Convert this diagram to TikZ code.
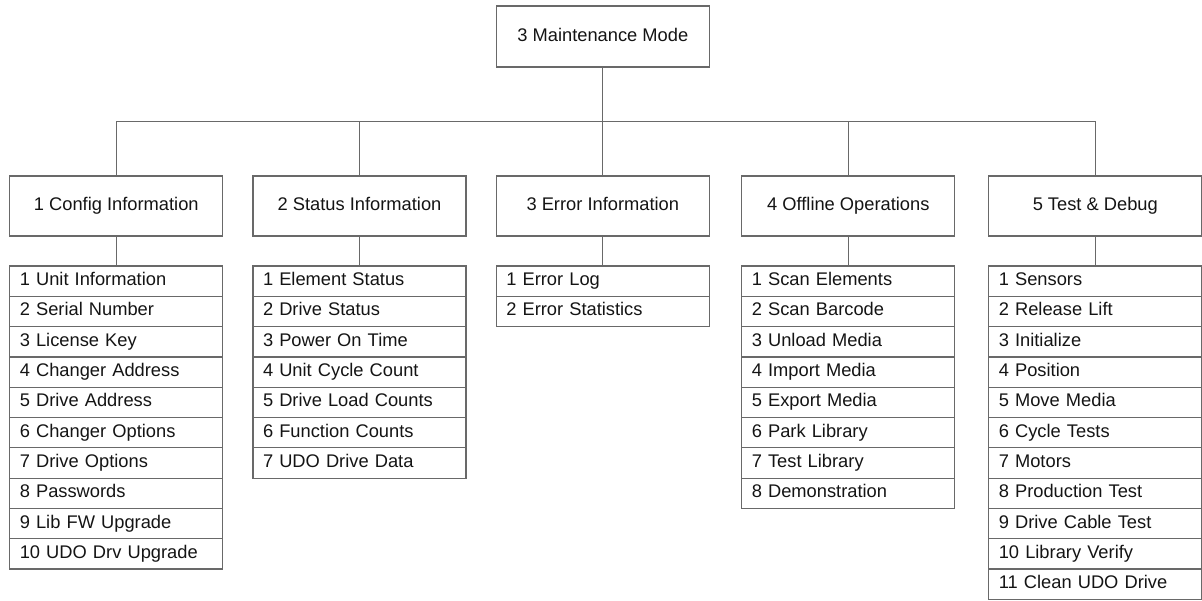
\documentclass[tikz,border=0pt]{standalone}
\usepackage{fontspec}
\setmainfont{Liberation Sans}
\usetikzlibrary{positioning,calc}
\definecolor{rulegray}{RGB}{105,105,105}
\definecolor{inkblack}{RGB}{20,20,20}

\tikzset{
  menubox/.style={draw=rulegray,line width=1.2pt,outer sep=0pt,minimum width=213pt,minimum height=60pt,text height=13pt,text depth=4pt,text=inkblack,font=\fontsize{18.3}{22}\selectfont},
  itembox/.style={draw=rulegray,line width=1.2pt,outer sep=0pt,minimum width=213pt,minimum height=30.3pt,inner xsep=10pt,text width=193pt,text height=13pt,text depth=4pt,align=left,text=inkblack,font=\fontsize{18.3}{22}\selectfont},
  link/.style={draw=rulegray,line width=1.2pt}
}
% one column of sub-menu entries hanging below a menu box
\newcommand\menulist[2]{%
  \foreach \entry [count=\i, evaluate=\i as \d using 30+(\i-1)*30.3] in {#2}
    {\node[itembox,below=\d pt of #1] (#1-\i) {\entry};}
  \draw[link] (#1) -- (#1-1);
}

\begin{document}
\begin{tikzpicture}[x=1pt,y=-1pt]
\useasboundingbox (0,0) rectangle (1202,600);
\node[menubox,minimum height=61pt] (mode) at (602.8,36.5) {3 Maintenance Mode};
\node[menubox] (cfg) at (116.3,206) {1 Config Information};
\node[menubox] (sts) at (359.5,206) {2 Status Information};
\node[menubox] (err) at (602.8,206) {3 Error Information};
\node[menubox] (off) at (848.3,206) {4 Offline Operations};
\node[menubox] (tst) at (1095.3,206) {5 Test \& Debug};
\foreach \h in {cfg,sts,err,off,tst}{\draw[link] (mode.south) |- ($(mode.south)!.5!(err.north)$) -| (\h.north);}

\menulist{cfg}{1 Unit Information,2 Serial Number,3 License Key,4 Changer Address,5 Drive Address,6 Changer Options,7 Drive Options,8 Passwords,9 Lib FW Upgrade,10 UDO Drv Upgrade}
\menulist{sts}{1 Element Status,2 Drive Status,3 Power On Time,4 Unit Cycle Count,5 Drive Load Counts,6 Function Counts,7 UDO Drive Data}
\menulist{err}{1 Error Log,2 Error Statistics}
\menulist{off}{1 Scan Elements,2 Scan Barcode,3 Unload Media,4 Import Media,5 Export Media,6 Park Library,7 Test Library,8 Demonstration}
\menulist{tst}{1 Sensors,2 Release Lift,3 Initialize,4 Position,5 Move Media,6 Cycle Tests,7 Motors,8 Production Test,9 Drive Cable Test,10 Library Verify,11 Clean UDO Drive}
\end{tikzpicture}
\end{document}
